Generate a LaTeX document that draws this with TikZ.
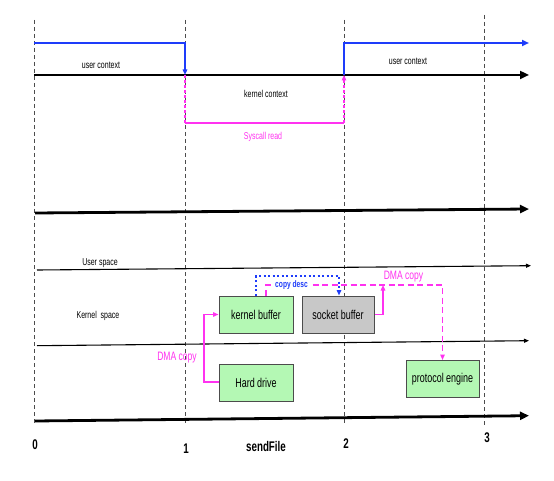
\documentclass[tikz,border=0pt]{standalone}
\usepackage{fontspec}
\setmainfont{Liberation Sans}[FakeStretch=0.7]
\usetikzlibrary{arrows.meta,positioning}
\definecolor{ctxblue}{RGB}{30,60,250}
\definecolor{dmapink}{RGB}{255,50,240}
\definecolor{bufgreen}{RGB}{180,248,180}
\definecolor{bufgray}{RGB}{200,200,200}

\begin{document}
\begin{tikzpicture}[x=1pt,y=-1pt,>={Triangle[length=5.5pt,width=4.5pt]},
    big arrow/.style={line width=2.8pt,-{Triangle[length=9pt,width=8pt]}},
    thin arrow/.style={line width=1.1pt,-{Triangle[length=5pt,width=4pt]}},
    grid line/.style={gray!60!black,line width=0.8pt,dash pattern=on 4pt off 3pt},
    box node/.style={draw=gray!60!black,line width=1pt,fill=bufgreen,minimum width=74pt,minimum height=37pt,inner sep=0pt,font=\fontsize{12.8}{14}\selectfont},
    small label/.style={font=\fontsize{10}{11}\selectfont},
    dma label/.style={text=dmapink,font=\fontsize{12.2}{14}\selectfont},
    axis label/.style={font=\bfseries\fontsize{14}{16}\selectfont}]
    \useasboundingbox[fill=white] (0,0) rectangle (554,481);

    % time marks
    \foreach \x/\t in {34/20,185/20,344/20,484/15}
        \draw[grid line] (\x,\t) -- (\x,425);

    % upper part: contexts
    \coordinate (t0) at (34,75);
    \coordinate (t1) at (529,75);
    \draw[big arrow] (t0) -- (t1);
    \coordinate (u0) at (34,43);
    \coordinate (u1) at (185,75);
    \coordinate (u2) at (344,75);
    \coordinate (u3) at (529,43);
    \draw[ctxblue,line width=2pt,->] (u0) -| (u1);
    \draw[ctxblue,line width=2pt,-{Triangle[length=7pt,width=6pt]}] (u2) |- (u3);
    \coordinate (s1) at (185,123);
    \coordinate (s2) at (344,123);
    \draw[dmapink,line width=1.2pt,dash pattern=on 3pt off 2pt] (u1) -- (s1);
    \draw[dmapink,line width=1.2pt] (s1) -- (s2);
    \draw[dmapink,line width=1.2pt,dash pattern=on 3pt off 2pt,->] (s2) -- (u2);
    \node[small label] (uc1) at (101,65) {user context};
    \node[small label] (uc2) at (408,61) {user context};
    \node[small label] (kc) at (266,94) {kernel context};
    \node[small label,text=dmapink] (sr) at (263,137) {Syscall read};

    % lower part: spaces
    \coordinate (a0) at (35,213);   \coordinate (a1) at (529,209);
    \coordinate (b0) at (37,270);   \coordinate (b1) at (531,265.7);
    \coordinate (c0) at (37,345.7); \coordinate (c1) at (529,340.7);
    \coordinate (d0) at (35,421);   \coordinate (d1) at (529,415.7);
    \draw[big arrow] (a0) -- (a1);
    \draw[thin arrow] (b0) -- (b1);
    \draw[thin arrow] (c0) -- (c1);
    \draw[big arrow] (d0) -- (d1);
    \node[small label] (us) at (100,263) {User space};
    \node[small label] (ks) at (98,316) {Kernel\ \ space};

    % buffers and devices
    \node[box node] (kb) at (256,314.5) {kernel buffer};
    \node[box node,fill=bufgray,minimum width=72pt] (sb) [right=8pt of kb] {socket buffer};
    \node[box node] (hd) [below=30pt of kb] {Hard drive};
    \node[box node,minimum width=73pt] (pe) at (442.5,379) {protocol engine};

    % copies
    \coordinate (hk) at (204,382);
    \draw[dmapink,line width=1.3pt,->] (hd.west |- hk) -- (hk) |- (kb.west);
    \node[dma label] (dma1) at (177,358) {DMA copy};
    \coordinate (sk) at (383,285);
    \draw[dmapink,line width=1.3pt,->] (sb.east) -| (sk);
    \node[dma label] (dma2) at (403.5,277) {DMA copy};
    \coordinate (bl) at (256,276);
    \draw[ctxblue,line width=1.6pt,dash pattern=on 2pt off 2.5pt,->] (kb.north) -- (bl) -| ([xshift=1pt]sb.north);
    \coordinate (pk) at (266,285);
    \draw[dmapink,line width=1.3pt,dash pattern=on 6pt off 3.5pt,->] ([xshift=10pt]kb.north) -- (pk) -| (pe.north);
    \node[fill=white,inner sep=1pt,text=ctxblue,font=\bfseries\fontsize{9.5}{11}\selectfont] (cd) at (291.5,285) {copy desc};

    % axis labels
    \node[axis label] (n0) at (35,445) {0};
    \node[axis label] (n1) at (186,449) {1};
    \node[axis label] (n2) at (346,444) {2};
    \node[axis label] (n3) at (487,438) {3};
    \node[axis label] (sf) at (266,446) {sendFile};
\end{tikzpicture}
\end{document}
